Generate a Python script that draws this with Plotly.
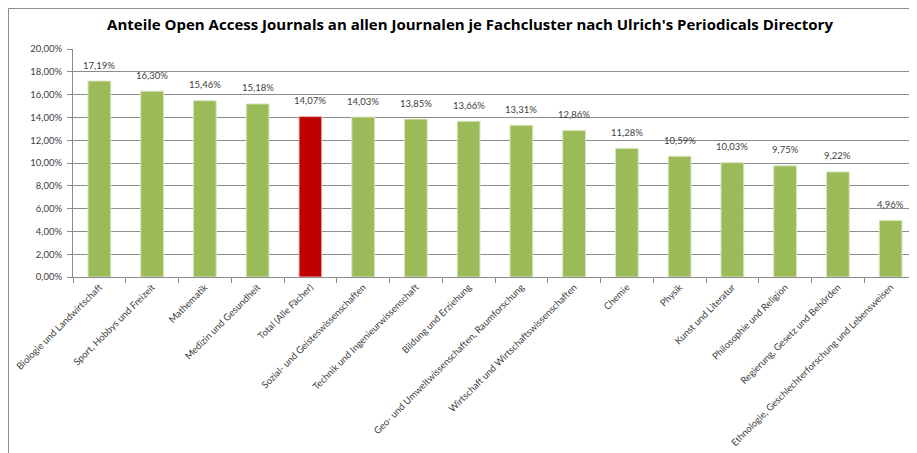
import plotly.graph_objects as go

categories = [
    "Biologie und Landwirtschaft",
    "Sport, Hobbys und Freizeit",
    "Mathematik",
    "Medizin und Gesundheit",
    "Total (Alle Fächer)",
    "Sozial- und Geisteswissenschaften",
    "Technik und Ingenieurwissenschaft",
    "Bildung und Erziehung",
    "Geo- und Umweltwissenschaften, Raumforschung",
    "Wirtschaft und Wirtschaftswissenschaften",
    "Chemie",
    "Physik",
    "Kunst und Literatur",
    "Philosophie und Religion",
    "Regierung, Gesetz und Behörden",
    "Ethnologie, Geschlechterforschung und Lebensweisen",
]
values = [0.1719, 0.1630, 0.1546, 0.1518, 0.1407, 0.1403, 0.1385, 0.1366,
          0.1331, 0.1286, 0.1128, 0.1059, 0.1003, 0.0975, 0.0922, 0.0496]
highlight = "Total (Alle Fächer)"

GREEN = "#9BBB59"
RED = "#C00000"
colors = [RED if c == highlight else GREEN for c in categories]
edges = ["#E6B9B8" if c == highlight else "#D7E4BD" for c in categories]

FONT = "Lato, Open Sans, Liberation Sans, sans-serif"
# page has an 8px body margin; figure origin sits at page (8, 8)
W, H = 909, 445
L, R, T, B = 65, 0, 41, 176

fig = go.Figure()
fig.add_trace(go.Bar(
    x=categories, y=values,
    marker=dict(color=colors, line=dict(color=edges, width=1)),
    hoverinfo="x+y",
))

for c, v in zip(categories, values):
    fig.add_annotation(
        x=c, y=v, xref="x", yref="y",
        text=f"{v * 100:.2f}%".replace(".", ","),
        showarrow=False, yanchor="middle", yshift=16,
        font=dict(family=FONT, size=9.5, color="#404040"),
    )

pw = W - L - R
ph = H - T - B
fig.add_shape(type="rect", xref="paper", yref="paper",
              x0=(0.5 - L) / pw, x1=(W + 20 - L) / pw,
              y0=-(B + 20) / ph, y1=(ph + T - 0.5) / ph,
              line=dict(color="#8C8C8C", width=1), fillcolor="rgba(0,0,0,0)", layer="below")

fig.update_layout(
    width=W, height=H,
    margin=dict(l=L, r=R, t=T, b=B),
    paper_bgcolor="white", plot_bgcolor="white",
    separators=",.",
    bargap=0.57,
    showlegend=False,
    title=dict(text="<b>Anteile Open Access Journals an allen Journalen je Fachcluster nach Ulrich's Periodicals Directory</b>",
               x=(470 - 8) / W, xanchor="center", y=1 - 17 / H, yanchor="middle",
               font=dict(family="Open Sans, Liberation Sans, sans-serif", size=15, color="black")),
    font=dict(family=FONT, size=9, color="#404040"),
)
fig.update_yaxes(range=[0, 0.20], dtick=0.02, tickformat=".2%",
                 showgrid=True, gridcolor="#8C8C8C", gridwidth=1,
                 showline=True, linecolor="#8C8C8C", ticks="outside", ticklen=5, tickcolor="#8C8C8C",
                 ticklabelstandoff=3,
                 tickfont=dict(family=FONT, size=9.5, color="#404040"), zeroline=False, automargin=False)
fig.update_xaxes(range=[-0.5, len(categories) - 0.5], tickangle=-45, showline=True, linecolor="#8C8C8C",
                 ticks="outside", tickson="boundaries", ticklen=5, tickcolor="#8C8C8C",
                 tickfont=dict(family=FONT, size=9.5, color="#404040"), automargin=False)

fig.write_html("out.html")
